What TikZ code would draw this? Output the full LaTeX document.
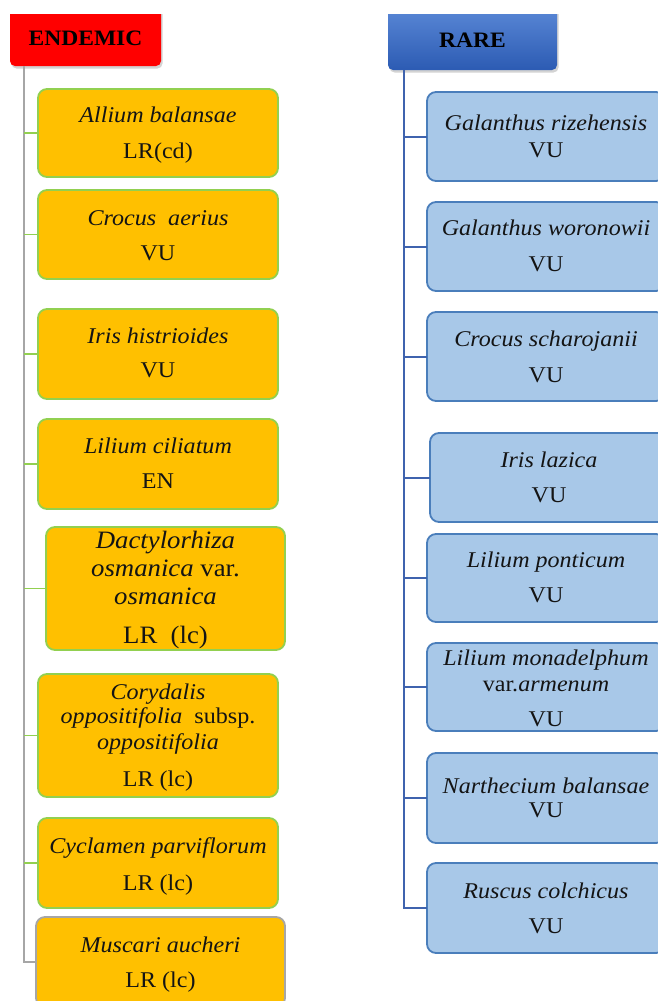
\documentclass[tikz,border=0pt]{standalone}
\usepackage{fontspec}
\setmainfont{Liberation Serif}[FakeStretch=1.07]
\usetikzlibrary{shadows}
\definecolor{eorange}{HTML}{FFC000}
\definecolor{egreen}{HTML}{92D050}
\definecolor{egray}{HTML}{A6A6A6}
\definecolor{rfill}{HTML}{A8C8E8}
\definecolor{rdraw}{HTML}{4A7EBB}
\definecolor{rline}{HTML}{3F63AE}
\definecolor{rtop}{HTML}{5C8AD8}
\definecolor{rbot}{HTML}{2C5BB3}
\definecolor{txtc}{HTML}{141414}
\tikzset{
  boxbase/.style={rectangle, inner sep=0pt, outer sep=0pt, line width=1.8pt, rounded corners=9pt},
  ebox/.style={boxbase, draw=egreen, fill=eorange},
  eboxg/.style={boxbase, draw=egray, fill=eorange},
  rbox/.style={boxbase, draw=rdraw, fill=rfill},
  txt/.style={anchor=base, inner sep=0pt, outer sep=0pt, text=txtc, font=\fontsize{22.5}{27}\selectfont},
  bigtxt/.style={txt, font=\fontsize{25}{30}\selectfont},
  headtxt/.style={txt, text=black, font=\fontsize{22}{26}\selectfont\bfseries},
  etrunk/.style={draw=egray, line width=2.4pt},
  econn/.style={draw=egreen, line width=1.8pt},
  rtrunk/.style={draw=rline, line width=2.3pt},
  rconn/.style={draw=rline, line width=2pt},
  hshadow/.style={drop shadow={shadow xshift=1.5pt, shadow yshift=-2.5pt, opacity=0.35}}
}
\newcommand\mkbox[6]{\node[#1, minimum width={(#5-#3)*1pt}, minimum height={(#6-#4)*1pt}] (#2) at ({(#3+#5)/2},{(#4+#6)/2}) {};}
\newcommand\mkline[5]{\node[#1] (#2) at (#3,#4) {#5};}
\begin{document}
\begin{tikzpicture}[x=1pt,y=-1pt]
\useasboundingbox (0,0) rectangle (658,1001);
\clip (0,0) rectangle (658,1001);
% headers
\begin{scope}
\clip (0,14) rectangle (658,1001);
\node[rectangle, inner sep=0pt, outer sep=0pt, fill=red, rounded corners=5pt, hshadow, minimum width=151pt, minimum height=62pt] (endemic) at (85.5,35) {};
\node[rectangle, inner sep=0pt, outer sep=0pt, top color=rtop, bottom color=rbot, rounded corners=5pt, hshadow, minimum width=169pt, minimum height=66pt] (rare) at (472.5,37) {};
\end{scope}
\mkline{headtxt}{endemict}{85.5}{45}{ENDEMIC}
\mkline{headtxt}{raret}{472.5}{47}{RARE}
% trunk coordinates
\coordinate (ej) at (24,66);
\coordinate (rj) at (404,70);
% endemic boxes
\mkbox{ebox}{e1}{38}{89}{278}{177}
\mkbox{ebox}{e2}{38}{190}{278}{279}
\mkbox{ebox}{e3}{38}{309}{278}{399}
\mkbox{ebox}{e4}{38}{419}{278}{509}
\mkbox{ebox}{e5}{46}{527}{285}{650}
\mkbox{ebox}{e6}{38}{674}{278}{797}
\mkbox{ebox}{e7}{38}{818}{278}{908}
\mkbox{eboxg}{e8}{36}{917}{285}{1007}
% rare boxes
\mkbox{rbox}{r1}{427}{92}{665}{181}
\mkbox{rbox}{r2}{427}{202}{665}{291}
\mkbox{rbox}{r3}{427}{312}{665}{401}
\mkbox{rbox}{r4}{430}{433}{668}{522}
\mkbox{rbox}{r5}{427}{534}{665}{622}
\mkbox{rbox}{r6}{427}{643}{665}{731}
\mkbox{rbox}{r7}{427}{753}{665}{843}
\mkbox{rbox}{r8}{427}{863}{665}{953}
% connectors
\draw[etrunk] (ej) |- (e8.west);
\foreach \n in {e1,e2,e3,e4,e5,e6,e7} \draw[econn] (\n.west) -- (\n.west -| ej);
\draw[rtrunk] (rj) |- (r8.west);
\foreach \n in {r1,r2,r3,r4,r5,r6,r7} \draw[rconn] (\n.west) -- (\n.west -| rj);
% endemic texts
\mkline{txt}{e1a}{158}{122}{\textit{Allium balansae}}
\mkline{txt}{e1b}{158}{158}{LR(cd)}
\mkline{txt}{e2a}{158}{225}{\textit{Crocus\ \ aerius}}
\mkline{txt}{e2b}{158}{260}{VU}
\mkline{txt}{e3a}{158}{343}{\textit{Iris histrioides}}
\mkline{txt}{e3b}{158}{377}{VU}
\mkline{txt}{e4a}{158}{453}{\textit{Lilium ciliatum}}
\mkline{txt}{e4b}{158}{488}{EN}
\mkline{bigtxt}{e5a}{165.5}{548}{\textit{Dactylorhiza}}
\mkline{bigtxt}{e5b}{165.5}{576}{\textit{osmanica} var.}
\mkline{bigtxt}{e5c}{165.5}{604}{\textit{osmanica}}
\mkline{bigtxt}{e5d}{165.5}{643}{LR\ \ (lc)}
\mkline{txt}{e6a}{158}{699}{\textit{Corydalis}}
\mkline{txt}{e6b}{158}{723}{\textit{oppositifolia}\ \ subsp.}
\mkline{txt}{e6c}{158}{749}{\textit{oppositifolia}}
\mkline{txt}{e6d}{158}{786}{LR (lc)}
\mkline{txt}{e7a}{158}{853}{\textit{Cyclamen parviflorum}}
\mkline{txt}{e7b}{158}{890}{LR (lc)}
\mkline{txt}{e8a}{160.5}{952}{\textit{Muscari aucheri}}
\mkline{txt}{e8b}{160.5}{987}{LR (lc)}
% rare texts
\mkline{txt}{r1a}{546}{130}{\textit{Galanthus\ rizehensis}}
\mkline{txt}{r1b}{546}{157}{VU}
\mkline{txt}{r2a}{546}{235}{\textit{Galanthus\ woronowii}}
\mkline{txt}{r2b}{546}{271}{VU}
\mkline{txt}{r3a}{546}{346}{\textit{Crocus\ scharojanii}}
\mkline{txt}{r3b}{546}{382}{VU}
\mkline{txt}{r4a}{549}{467}{\textit{Iris lazica}}
\mkline{txt}{r4b}{549}{502}{VU}
\mkline{txt}{r5a}{546}{567}{\textit{Lilium ponticum}}
\mkline{txt}{r5b}{546}{602}{VU}
\mkline{txt}{r6a}{546}{665}{\textit{Lilium monadelphum}}
\mkline{txt}{r6b}{546}{691}{var.\textit{armenum}}
\mkline{txt}{r6c}{546}{726}{VU}
\mkline{txt}{r7a}{546}{793}{\textit{Narthecium balansae}}
\mkline{txt}{r7b}{546}{817}{VU}
\mkline{txt}{r8a}{546}{898}{\textit{Ruscus\ colchicus}}
\mkline{txt}{r8b}{546}{933}{VU}
\end{tikzpicture}
\end{document}
